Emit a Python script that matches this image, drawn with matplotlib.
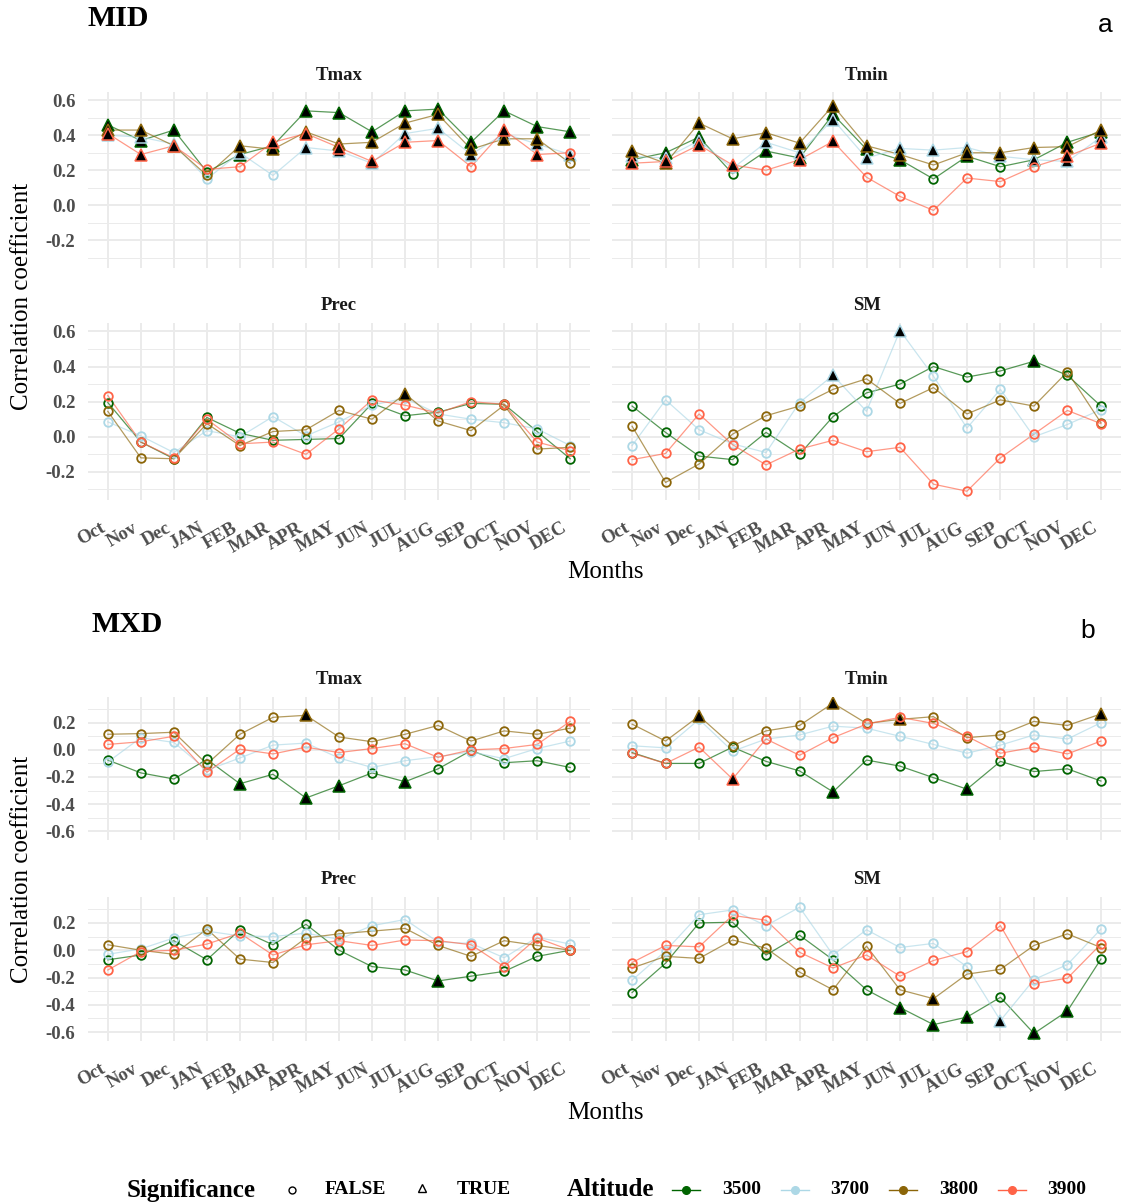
import numpy as np
import matplotlib
matplotlib.use("Agg")
import matplotlib.pyplot as plt
from matplotlib.lines import Line2D
from matplotlib.ticker import MultipleLocator, FuncFormatter

plt.rcParams['font.family'] = ['Liberation Serif', 'DejaVu Serif']

months = ["Oct", "Nov", "Dec", "JAN", "FEB", "MAR", "APR", "MAY", "JUN",
          "JUL", "AUG", "SEP", "OCT", "NOV", "DEC"]
altitudes = ["3500", "3700", "3800", "3900"]
alt_colors = ["#006400", "#ADD8E6", "#8B6508", "#FF6347"]

# ---- MID ----
mid_tmax = {
    "3500": [0.46, 0.37, 0.43, 0.19, 0.29, 0.34, 0.54, 0.53, 0.42, 0.54, 0.55, 0.36, 0.54, 0.45, 0.42],
    "3700": [0.40, 0.39, 0.35, 0.15, 0.30, 0.17, 0.33, 0.31, 0.24, 0.41, 0.44, 0.29, 0.41, 0.35, 0.29],
    "3800": [0.43, 0.43, 0.34, 0.17, 0.34, 0.32, 0.42, 0.35, 0.36, 0.47, 0.52, 0.32, 0.38, 0.38, 0.24],
    "3900": [0.41, 0.29, 0.34, 0.205, 0.22, 0.36, 0.41, 0.33, 0.25, 0.36, 0.37, 0.22, 0.43, 0.29, 0.30],
}
mid_tmax_sig = {"3500": "111011111111111", "3700": "111010111111111",
                "3800": "111011111111110", "3900": "111001111110110"}

mid_tmin = {
    "3500": [0.26, 0.30, 0.39, 0.18, 0.31, 0.27, 0.52, 0.32, 0.26, 0.15, 0.28, 0.22, 0.26, 0.36, 0.42],
    "3700": [0.28, 0.27, 0.37, 0.21, 0.36, 0.30, 0.49, 0.27, 0.325, 0.315, 0.33, 0.28, 0.26, 0.25, 0.39],
    "3800": [0.31, 0.24, 0.47, 0.38, 0.415, 0.355, 0.57, 0.34, 0.29, 0.23, 0.30, 0.30, 0.33, 0.335, 0.43],
    "3900": [0.24, 0.25, 0.345, 0.23, 0.20, 0.26, 0.365, 0.16, 0.05, -0.03, 0.155, 0.135, 0.22, 0.28, 0.355],
}
mid_tmin_sig = {"3500": "111011111010111", "3700": "111011111111111",
                "3800": "111111111011111", "3900": "111101100000011"}

mid_prec = {
    "3500": [0.195, -0.03, -0.125, 0.11, 0.02, -0.02, -0.015, -0.01, 0.19, 0.12, 0.14, 0.19, 0.185, 0.03, -0.125],
    "3700": [0.085, 0.005, -0.09, 0.035, 0.0, 0.115, 0.005, 0.085, 0.18, 0.22, 0.13, 0.10, 0.08, 0.045, -0.05],
    "3800": [0.145, -0.12, -0.125, 0.075, -0.05, 0.03, 0.04, 0.15, 0.10, 0.245, 0.09, 0.035, 0.18, -0.07, -0.06],
    "3900": [0.235, -0.03, -0.12, 0.10, -0.04, -0.03, -0.10, 0.045, 0.21, 0.18, 0.135, 0.20, 0.185, -0.03, -0.08],
}
mid_prec_sig = {"3500": "000000000000000", "3700": "000000000000000",
                "3800": "000000000100000", "3900": "000000000000000"}

mid_sm = {
    "3500": [0.175, 0.025, -0.11, -0.13, 0.025, -0.10, 0.115, 0.25, 0.30, 0.40, 0.34, 0.375, 0.43, 0.35, 0.175],
    "3700": [-0.05, 0.21, 0.04, -0.04, -0.09, 0.195, 0.35, 0.145, 0.605, 0.345, 0.05, 0.27, 0.0, 0.07, 0.155],
    "3800": [0.06, -0.26, -0.155, 0.015, 0.12, 0.175, 0.27, 0.33, 0.19, 0.28, 0.13, 0.21, 0.175, 0.37, 0.08],
    "3900": [-0.13, -0.095, 0.13, -0.045, -0.16, -0.07, -0.02, -0.085, -0.06, -0.27, -0.31, -0.12, 0.015, 0.15, 0.075],
}
mid_sm_sig = {"3500": "000000000000100", "3700": "000000101000000",
              "3800": "000000000000000", "3900": "000000000000000"}

# ---- MXD ----
mxd_tmax = {
    "3500": [-0.075, -0.17, -0.215, -0.07, -0.25, -0.18, -0.355, -0.265, -0.17, -0.235, -0.14, -0.005, -0.095, -0.08, -0.13],
    "3700": [-0.09, 0.09, 0.055, -0.15, -0.06, 0.035, 0.05, -0.06, -0.13, -0.08, -0.05, -0.015, -0.065, 0.01, 0.065],
    "3800": [0.115, 0.12, 0.13, -0.105, 0.115, 0.24, 0.255, 0.095, 0.06, 0.115, 0.18, 0.065, 0.14, 0.115, 0.16],
    "3900": [0.04, 0.06, 0.10, -0.165, 0.005, -0.03, 0.02, -0.02, 0.01, 0.045, -0.055, 0.0, 0.01, 0.04, 0.21],
}
mxd_tmax_sig = {"3500": "000010110100000", "3700": "000000000000000",
                "3800": "000000100000000", "3900": "000000000000000"}

mxd_tmin = {
    "3500": [-0.02, -0.10, -0.10, 0.02, -0.085, -0.155, -0.31, -0.075, -0.12, -0.205, -0.29, -0.085, -0.16, -0.14, -0.23],
    "3700": [0.03, 0.015, 0.225, -0.01, 0.08, 0.11, 0.175, 0.16, 0.10, 0.04, -0.025, 0.035, 0.11, 0.08, 0.20],
    "3800": [0.19, 0.065, 0.25, 0.03, 0.14, 0.18, 0.345, 0.195, 0.225, 0.245, 0.09, 0.11, 0.21, 0.18, 0.265],
    "3900": [-0.025, -0.10, 0.02, -0.215, 0.08, -0.04, 0.09, 0.19, 0.24, 0.195, 0.10, -0.025, 0.02, -0.03, 0.065],
}
mxd_tmin_sig = {"3500": "000000100010000", "3700": "000000000000000",
                "3800": "001000101000001", "3900": "000100000000000"}

mxd_prec = {
    "3500": [-0.07, -0.035, 0.07, -0.07, 0.15, 0.04, 0.19, 0.0, -0.12, -0.145, -0.225, -0.19, -0.155, -0.045, 0.0],
    "3700": [-0.03, 0.01, 0.09, 0.14, 0.105, 0.10, 0.125, 0.08, 0.18, 0.225, 0.06, 0.05, -0.055, 0.095, 0.045],
    "3800": [0.04, 0.0, -0.03, 0.155, -0.065, -0.09, 0.09, 0.12, 0.14, 0.16, 0.035, -0.045, 0.07, 0.035, 0.0],
    "3900": [-0.145, -0.01, 0.0, 0.045, 0.125, -0.035, 0.04, 0.07, 0.035, 0.075, 0.07, 0.04, -0.12, 0.09, 0.0],
}
mxd_prec_sig = {"3500": "000000000010000", "3700": "000000000000000",
                "3800": "000000000000000", "3900": "000000000000000"}

mxd_sm = {
    "3500": [-0.31, -0.095, 0.20, 0.205, -0.035, 0.11, -0.07, -0.29, -0.42, -0.545, -0.49, -0.345, -0.61, -0.445, -0.065],
    "3700": [-0.22, -0.005, 0.26, 0.295, 0.18, 0.315, -0.035, 0.15, 0.02, 0.05, -0.12, -0.515, -0.215, -0.105, 0.155],
    "3800": [-0.13, -0.045, -0.06, 0.075, 0.015, -0.16, -0.29, 0.03, -0.29, -0.355, -0.175, -0.14, 0.035, 0.12, 0.02],
    "3900": [-0.09, 0.035, 0.025, 0.255, 0.22, -0.015, -0.13, -0.035, -0.19, -0.075, -0.01, 0.18, -0.245, -0.205, 0.045],
}
mxd_sm_sig = {"3500": "000000001110110", "3700": "000000000001000",
              "3800": "000000000100000", "3900": "000000000000000"}

W, H = 1122, 1204
fig = plt.figure(figsize=(W / 100, H / 100), dpi=100)


def rect(xr, yr):
    return [xr[0] / W, 1 - yr[1] / H, (xr[1] - xr[0]) / W, (yr[1] - yr[0]) / H]


col_x = [(88, 590), (612, 1121)]
blocks = [
    ("MID", (-0.36, 0.648), [(92, 268), (323, 500)],
     [(mid_tmax, mid_tmax_sig, "Tmax"), (mid_tmin, mid_tmin_sig, "Tmin"),
      (mid_prec, mid_prec_sig, "Prec"), (mid_sm, mid_sm_sig, "SM")]),
    ("MXD", (-0.665, 0.39), [(697, 840), (897, 1041)],
     [(mxd_tmax, mxd_tmax_sig, "Tmax"), (mxd_tmin, mxd_tmin_sig, "Tmin"),
      (mxd_prec, mxd_prec_sig, "Prec"), (mxd_sm, mxd_sm_sig, "SM")]),
]

tick_col = "#4D4D4D"
grid_col = "#EBEBEB"
fmt = FuncFormatter(lambda v, p: f"{v:.1f}".replace("-0.0", "0.0"))
x = np.arange(len(months))

for name, ylim, rows, panels in blocks:
    for k, (data, sigs, title) in enumerate(panels):
        r, c = divmod(k, 2)
        ax = fig.add_axes(rect(col_x[c], rows[r]))
        for alt, color in zip(altitudes, alt_colors):
            vals = np.array(data[alt])
            sig = np.array([s == "1" for s in sigs[alt]])
            ax.plot(x, vals, color=color, lw=0.9, alpha=0.65, zorder=2)
            ax.plot(x[~sig], vals[~sig], "o", ms=6.2, mfc="none", mec=color, mew=1.3, zorder=3)
            ax.plot(x[sig], vals[sig], "^", ms=8, mfc="black", mec=color, mew=1.1, zorder=3)
        ax.set_xlim(-0.6, len(months) - 0.4)
        ax.set_ylim(*ylim)
        ax.set_xticks(x)
        ax.yaxis.set_major_locator(MultipleLocator(0.2))
        ax.yaxis.set_minor_locator(MultipleLocator(0.1))
        ax.yaxis.set_major_formatter(fmt)
        ax.grid(which="major", color=grid_col, lw=1.4)
        ax.grid(which="minor", axis="y", color=grid_col, lw=0.7)
        ax.set_axisbelow(True)
        for s in ax.spines.values():
            s.set_visible(False)
        ax.tick_params(which="both", length=0)
        ax.tick_params(axis="y", pad=9)
        ax.tick_params(axis="x", pad=14)
        ax.set_title(title, fontsize=13.5, fontweight="bold", color="#1A1A1A", pad=9)
        if r == 1:
            ax.set_xticklabels(months, rotation=30, ha="right", va="top",
                               fontsize=13.5, fontweight="bold", color=tick_col)
        else:
            ax.set_xticklabels([])
        if c == 0:
            for lbl in ax.get_yticklabels():
                lbl.set_fontsize(13.5)
                lbl.set_fontweight("bold")
                lbl.set_color(tick_col)
        else:
            ax.set_yticklabels([])

    top, bottom = rows[0][0], rows[1][1]
    fig.text(605 / W, 1 - (bottom + 72) / H, "Months", fontsize=18, ha="center", va="center")
    fig.text(22 / W, 1 - (top + bottom) / 2 / H, "Correlation coefficient", fontsize=18,
             rotation=90, ha="center", va="center")

fig.text(88 / W, 1 - 19 / H, "MID", fontsize=21.5, fontweight="bold", ha="left", va="center")
fig.text(91 / W, 1 - 625 / H, "MXD", fontsize=21.5, fontweight="bold", ha="left", va="center")
fig.text(1105 / W, 1 - 25 / H, "a", fontsize=19, family="Liberation Sans", ha="center", va="center")
fig.text(1088 / W, 1 - 631 / H, "b", fontsize=19, family="Liberation Sans", ha="center", va="center")

# legend
ly = 1 - 1190 / H
fig.text(127 / W, ly, "Significance", fontsize=18, fontweight="bold", ha="left", va="center")
fig.add_artist(Line2D([292 / W], [ly], marker="o", ms=5, mfc="none", mec="black", mew=1,
                      transform=fig.transFigure))
fig.text(325 / W, ly, "FALSE", fontsize=14, fontweight="bold", ha="left", va="center")
fig.add_artist(Line2D([422 / W], [ly + 0.002], marker="^", ms=6, mfc="none", mec="black", mew=1,
                      transform=fig.transFigure))
fig.text(457 / W, ly, "TRUE", fontsize=14, fontweight="bold", ha="left", va="center")
fig.text(567 / W, ly, "Altitude", fontsize=18, fontweight="bold", ha="left", va="center")
for i, (alt, color) in enumerate(zip(altitudes, alt_colors)):
    x0 = 672 + i * 108.5
    fig.add_artist(Line2D([x0 / W, (x0 + 28) / W], [ly, ly], color=color, lw=1,
                          transform=fig.transFigure))
    fig.add_artist(Line2D([(x0 + 14) / W], [ly], marker="o", ms=5.5, color=color,
                          transform=fig.transFigure))
    fig.text((x0 + 50) / W, ly, alt, fontsize=14, fontweight="bold", ha="left", va="center")

fig.savefig("out.png", dpi=100, facecolor="white")
